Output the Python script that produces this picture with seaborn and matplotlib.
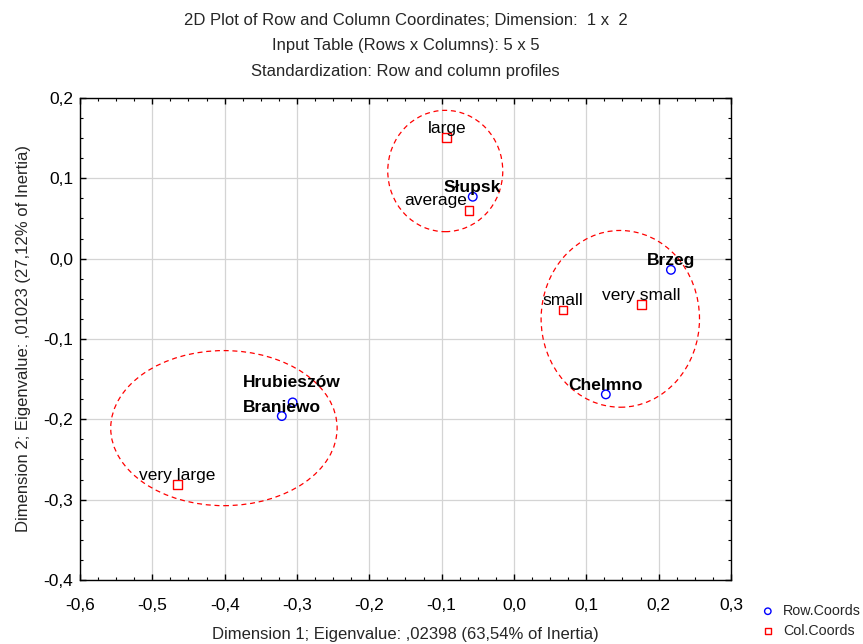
import matplotlib
matplotlib.use("Agg")
import matplotlib.pyplot as plt
from matplotlib.patches import Ellipse
from matplotlib.ticker import MultipleLocator, FuncFormatter
import seaborn as sns
import pandas as pd

# ---- data ----
row_names = ["Słupsk", "Brzeg", "Chelmno", "Hrubieszów", "Braniewo"]
row_x = [-0.057, 0.217, 0.127, -0.306, -0.321]
row_y = [0.077, -0.014, -0.169, -0.179, -0.196]

col_names = ["large", "average", "small", "very small", "very large"]
col_x = [-0.093, -0.062, 0.068, 0.176, -0.465]
col_y = [0.151, 0.060, -0.064, -0.057, -0.281]

# ellipse groups: center x, center y, width, height
ell_cx = [-0.095, 0.147, -0.401]
ell_cy = [0.109, -0.075, -0.211]
ell_w = [0.159, 0.219, 0.313]
ell_h = [0.151, 0.220, 0.193]

title_lines = ["2D Plot of Row and Column Coordinates; Dimension:  1 x  2",
               "Input Table (Rows x Columns): 5 x 5",
               "Standardization: Row and column profiles"]
xlabel = "Dimension 1; Eigenvalue: ,02398 (63,54% of Inertia)"
ylabel = "Dimension 2; Eigenvalue: ,01023 (27,12% of Inertia)"

sns.set_theme(style="white")
plt.rcParams['font.family'] = ['Liberation Sans', 'DejaVu Sans']

fig = plt.figure(figsize=(8.63, 6.44), dpi=100)
ax = fig.add_axes([0.0927, 0.0994, 0.7543, 0.7486])

rows = pd.DataFrame({"x": row_x, "y": row_y, "name": row_names})
cols = pd.DataFrame({"x": col_x, "y": col_y, "name": col_names})

for cx, cy, w, h in zip(ell_cx, ell_cy, ell_w, ell_h):
    ax.add_patch(Ellipse((cx, cy), w, h, fill=False, edgecolor="red",
                         linestyle=(0, (4, 3)), linewidth=0.9, zorder=2))

sns.scatterplot(data=rows, x="x", y="y", ax=ax, marker="o", s=38,
                facecolor="none", edgecolor="blue", linewidth=1.0,
                label="Row.Coords", zorder=3)
sns.scatterplot(data=cols, x="x", y="y", ax=ax, marker="s", s=38,
                facecolor="none", edgecolor="red", linewidth=1.0,
                label="Col.Coords", zorder=3)

label_shift = {"average": (-24, 7), "Hrubieszów": (-1, 14)}
for n, x, y in zip(row_names, row_x, row_y):
    dx, dy = label_shift.get(n, (0, 6.5))
    ax.annotate(n, (x, y), xytext=(dx, dy), textcoords="offset points",
                ha="center", va="center", fontsize=12.5, fontweight="bold",
                color="black", zorder=4)
for n, x, y in zip(col_names, col_x, col_y):
    dx, dy = label_shift.get(n, (0, 6.5))
    ax.annotate(n, (x, y), xytext=(dx, dy), textcoords="offset points",
                ha="center", va="center", fontsize=12.5, color="black", zorder=4)

ax.set_xlim(-0.6, 0.3)
ax.set_ylim(-0.4, 0.2)
ax.xaxis.set_major_locator(MultipleLocator(0.1))
ax.yaxis.set_major_locator(MultipleLocator(0.1))
ax.xaxis.set_minor_locator(MultipleLocator(0.025))
ax.yaxis.set_minor_locator(MultipleLocator(0.025))
fmt = FuncFormatter(lambda v, p: ("%.1f" % v).replace(".", ",").replace("-0,0", "0,0"))
ax.xaxis.set_major_formatter(fmt)
ax.yaxis.set_major_formatter(fmt)
ax.tick_params(which="both", direction="in", top=True, right=True,
               bottom=True, left=True, colors="black", labelsize=12.5)
ax.tick_params(which="major", length=4, width=1)
ax.tick_params(which="minor", length=2.5, width=0.8)
ax.tick_params(axis="x", pad=13)
ax.tick_params(axis="y", pad=5)
ax.grid(True, which="major", color="#d4d4d4", linewidth=0.9)
for s in ax.spines.values():
    s.set_visible(True)
    s.set_color("black")
    s.set_linewidth(1.0)

ax.set_xlabel(xlabel, fontsize=12, labelpad=10)
ax.set_ylabel(ylabel, fontsize=12, labelpad=9)
ax.set_title("\n".join(title_lines), fontsize=12, linespacing=1.85, pad=16)

leg = ax.legend(loc="lower left", bbox_to_anchor=(0.864, -0.008),
                bbox_transform=fig.transFigure, frameon=False, fontsize=10.3,
                handletextpad=0.3, handlelength=1.5, labelspacing=0.4,
                markerscale=0.75, borderpad=0.3)

fig.savefig("out.png", dpi=100)
